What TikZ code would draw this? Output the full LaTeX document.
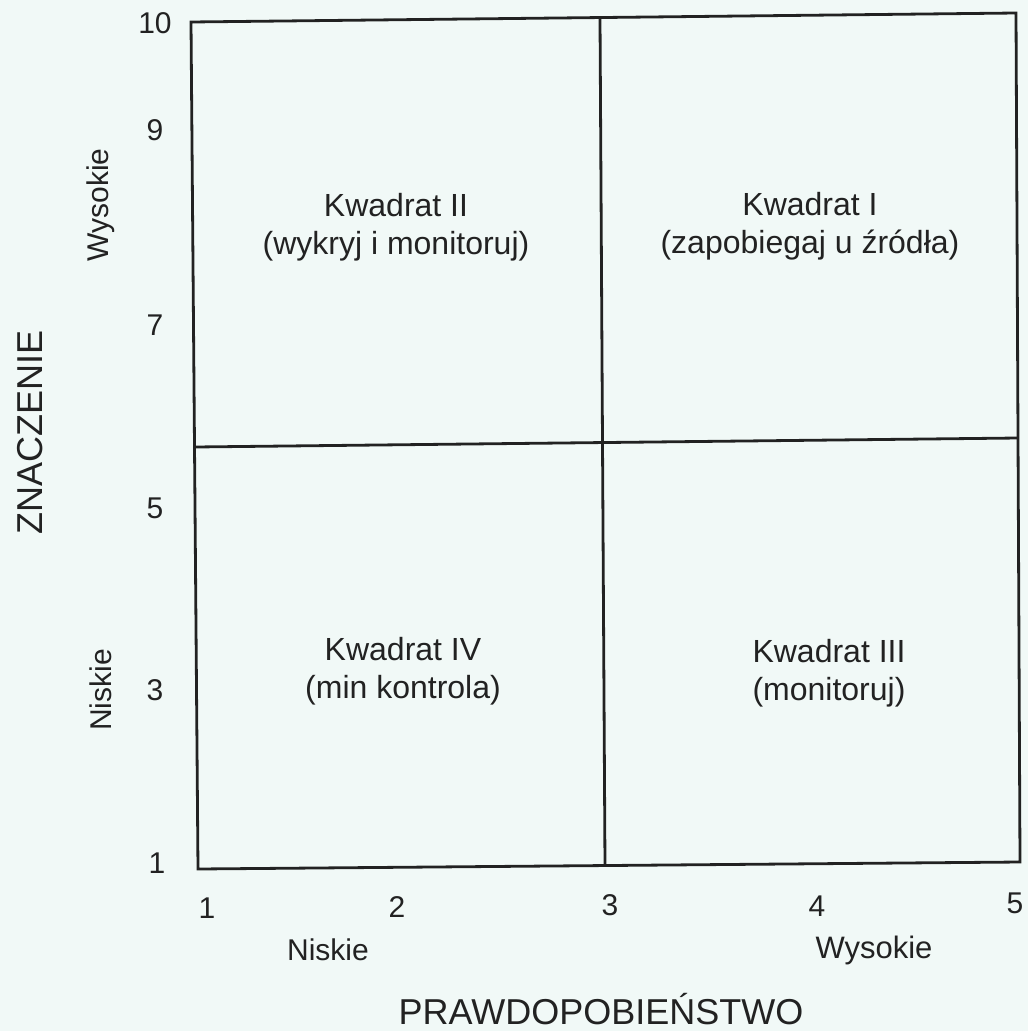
\documentclass[tikz,border=0pt]{standalone}
\usepackage{fontspec}
\setmainfont{Liberation Sans}
\definecolor{bgc}{HTML}{F1F9F7}
\definecolor{ink}{HTML}{222222}
\begin{document}
\begin{tikzpicture}[x=1pt,y=-1pt,
  lbl/.style={font=\fontsize{30}{38}\selectfont,text=ink,inner sep=0pt,align=center},
  quad/.style={font=\fontsize{32}{38}\selectfont,text=ink,inner sep=0pt,align=center},
  big/.style={font=\fontsize{36}{42}\selectfont,text=ink,inner sep=0pt},
  frame/.style={draw=ink,line width=2.8pt,line join=miter}]
\fill[bgc] (0,0) rectangle (1028,1031);
\useasboundingbox (0,0) rectangle (1028,1031);
% frame corners
\coordinate (tl) at (191,22);
\coordinate (tr) at (1016,13);
\coordinate (br) at (1020,862);
\coordinate (bl) at (198,869);
\coordinate (hl) at (195,447);
\coordinate (hr) at (1018,438);
\coordinate (vt) at (600,18);
\coordinate (vb) at (605,866);
\draw[frame] (tl) -- (tr) -- (br) -- (bl) -- cycle;
\draw[frame] (hl) -- (hr);
\draw[frame] (vt) -- (vb);
% y ticks
\node[lbl] (y10) at (155,23) {10};
\node[lbl] (y9) at (155,130) {9};
\node[lbl] (y7) at (155,325) {7};
\node[lbl] (y5) at (155,508) {5};
\node[lbl] (y3) at (155,690) {3};
\node[lbl] (y1) at (157,863) {1};
% x ticks
\node[lbl] (x1) at (207,908) {1};
\node[lbl] (x2) at (397,907) {2};
\node[lbl] (x3) at (610,905) {3};
\node[lbl] (x4) at (817,906) {4};
\node[lbl] (x5) at (1015,903) {5};
% axis words
\node[lbl] (xn) at (328,950) {Niskie};
\node[lbl,font=\fontsize{31}{38}\selectfont] (xw) at (874,950) {Wysokie};
\node[big,anchor=base] (xt) at (601,1024) {PRAWDOPOBIEŃSTWO};
\node[lbl,rotate=90] (yw) at (101,205) {Wysokie};
\node[lbl,rotate=90] (yn) at (101,690) {Niskie};
\node[big,rotate=90] (yt) at (30,432) {ZNACZENIE};
% quadrants
\node[quad] (q2) at (396,227) {Kwadrat II\\(wykryj i monitoruj)};
\node[quad] (q1) at (810,226) {Kwadrat I\\(zapobiegaj u źródła)};
\node[quad] (q4) at (403,671) {Kwadrat IV\\(min kontrola)};
\node[quad] (q3) at (829,673) {Kwadrat III\\(monitoruj)};
\end{tikzpicture}
\end{document}
